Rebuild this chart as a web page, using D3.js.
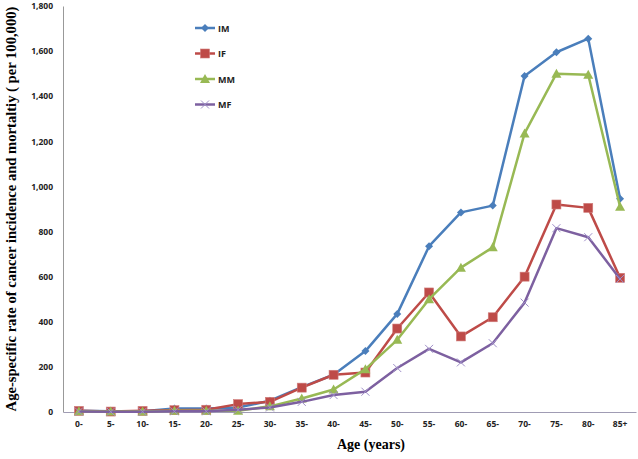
<!DOCTYPE html>
<html>
<head>
<meta charset="utf-8">
<script src="https://cdn.jsdelivr.net/npm/d3@7"></script>
<style>
  body { margin: 0; background: #fff; }
  .tick text { font-family: "Open Sans", Arial, sans-serif; font-weight: bold; font-size: 8.5px; fill: #222; }
</style>
</head>
<body>
<svg width="638" height="459"></svg>
<script>
// age groups and the four series (per 100,000)
const ages = ["0-", "5-", "10-", "15-", "20-", "25-", "30-", "35-", "40-", "45-", "50-", "55-", "60-", "65-", "70-", "75-", "80-", "85+"];
const IM = [5, 3, 3, 15, 15, 20, 50, 110, 165, 270, 435, 735, 885, 915, 1490, 1595, 1655, 945];
const IF = [5, 2, 5, 8, 10, 35, 45, 108, 165, 175, 370, 530, 335, 420, 600, 920, 905, 595];
const MM = [3, 2, 2, 5, 5, 5, 25, 60, 100, 190, 320, 500, 640, 730, 1235, 1500, 1495, 910];
const MF = [2, 1, 1, 3, 3, 10, 20, 45, 75, 90, 195, 280, 220, 305, 485, 815, 775, 590];
const yTicks = [0, 200, 400, 600, 800, 1000, 1200, 1400, 1600, 1800];

const series = [
    { name: "IM", values: IM, color: "#4a7ebb", marker: "diamond" },
    { name: "IF", values: IF, color: "#be4b48", marker: "square" },
    { name: "MM", values: MM, color: "#98b954", marker: "triangle" },
    { name: "MF", values: MF, color: "#7d60a0", marker: "cross" },
];

const svg = d3.select("svg");
const plotLeft = 63, plotRight = 636, plotTop = 6, plotBottom = 412;

const x = d3.scaleBand().domain(ages).range([plotLeft, plotRight]);
const y = d3.scaleLinear().domain([0, 1800]).range([plotBottom, plotTop]);
const cx = (a) => x(a) + x.bandwidth() / 2;

// axes
const yAxis = svg.append("g")
    .attr("transform", `translate(${plotLeft},0)`)
    .call(d3.axisLeft(y).tickValues(yTicks).tickFormat(d3.format(",")).tickSize(0).tickPadding(10));
yAxis.select(".domain").attr("stroke", "#999");

const xAxis = svg.append("g")
    .attr("transform", `translate(0,${plotBottom})`)
    .call(d3.axisBottom(x).tickSize(0).tickPadding(9));
xAxis.select(".domain").attr("stroke", "#a09cb4");

// axis titles
svg.append("text")
    .attr("transform", `translate(16,${(plotTop + plotBottom) / 2}) rotate(-90)`)
    .attr("text-anchor", "middle")
    .style("font-family", "'Liberation Serif', 'Times New Roman', serif")
    .style("font-weight", "bold")
    .style("font-size", "14.6px")
    .text("Age-specific rate of cancer incidence and mortaltiy\u00a0( per 100,000)");

svg.append("text")
    .attr("x", 371)
    .attr("y", 449)
    .attr("text-anchor", "middle")
    .style("font-family", "'Liberation Serif', 'Times New Roman', serif")
    .style("font-weight", "bold")
    .style("font-size", "14px")
    .text("Age (years)");

// markers
function drawMarker(g, type, color) {
    if (type === "diamond") {
        g.append("path").attr("d", "M0,-4L4,0L0,4L-4,0Z").attr("fill", color);
    } else if (type === "square") {
        g.append("rect").attr("x", -4.5).attr("y", -4.5).attr("width", 9).attr("height", 9)
            .attr("fill", color).attr("stroke", "#d07d7b").attr("stroke-width", 0.6);
    } else if (type === "triangle") {
        g.append("path").attr("d", "M0,-5L5,4L-5,4Z").attr("fill", color);
    } else {
        g.append("path").attr("d", "M-4,-4L4,4M-4,4L4,-4").attr("stroke", "#9f8fc8").attr("stroke-width", 1);
    }
}

const line = d3.line()
    .x((d, i) => cx(ages[i]))
    .y((d) => y(d));

series.forEach((s) => {
    const g = svg.append("g").attr("class", "series");
    g.append("path")
        .datum(s.values)
        .attr("fill", "none")
        .attr("stroke", s.color)
        .attr("stroke-width", 2.5)
        .attr("stroke-linejoin", "round")
        .attr("d", line);
    s.values.forEach((v, i) => {
        const m = g.append("g").attr("transform", `translate(${cx(ages[i])},${y(v)})`);
        drawMarker(m, s.marker, s.color);
    });
});

// legend
const legend = svg.append("g").attr("class", "legend");
series.forEach((s, i) => {
    const ly = 28 + i * 25.5;
    legend.append("line")
        .attr("x1", 195).attr("x2", 215)
        .attr("y1", ly).attr("y2", ly)
        .attr("stroke", s.color).attr("stroke-width", 2.5);
    const m = legend.append("g").attr("transform", `translate(205,${ly})`);
    drawMarker(m, s.marker, s.color);
    legend.append("text")
        .attr("x", 218).attr("y", ly + 3.5)
        .style("font-family", "'Open Sans', Arial, sans-serif")
        .style("font-weight", "bold")
        .style("font-size", "9px")
        .attr("fill", "#222")
        .text(s.name);
});
</script>
</body>
</html>
